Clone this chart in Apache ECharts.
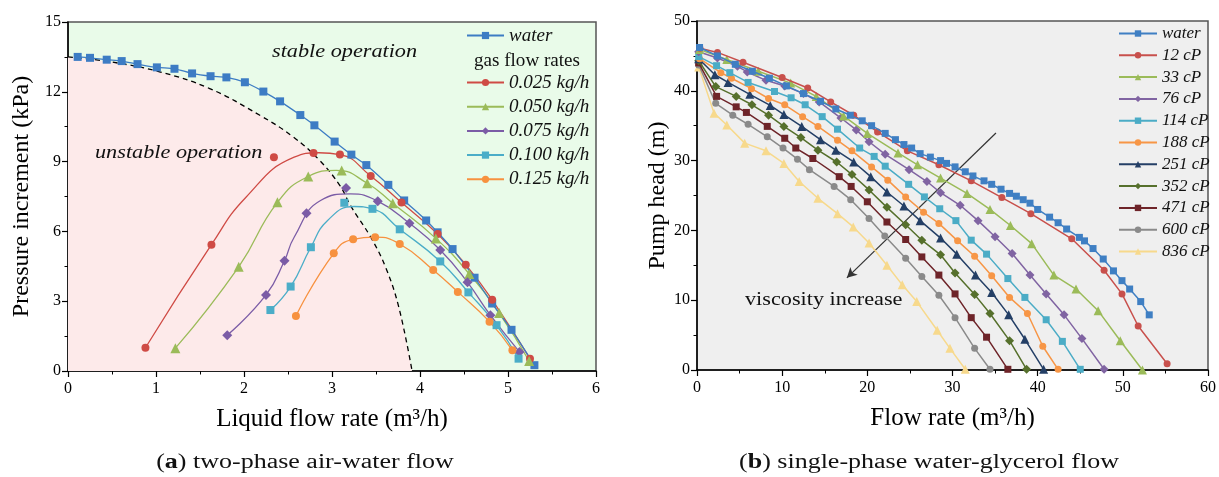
<!DOCTYPE html>
<html><head><meta charset="utf-8">
<script src="https://cdn.jsdelivr.net/npm/echarts@6/dist/echarts.min.js"></script>
<style>html,body{margin:0;padding:0;background:#fff}#c{width:1219px;height:477px}</style>
</head><body><div id="c"></div>
<script>
// ---------- Panel (a): two-phase air-water flow ----------
const waterA = [[0.11,13.5],[0.25,13.46],[0.44,13.38],[0.61,13.32],[0.79,13.19],[1.01,13.05],[1.21,12.99],[1.41,12.79],[1.62,12.67],[1.80,12.62],[2.01,12.41],[2.22,12.01],[2.41,11.59],[2.64,11.0],[2.80,10.56],[3.03,9.86],[3.22,9.30],[3.39,8.85],[3.64,8.0],[3.82,7.33],[4.07,6.47],[4.20,5.96],[4.37,5.24],[4.62,4.01],[4.82,2.90],[5.04,1.77],[5.30,0.25]];
// measured points (markers)
const g025Pts = [[0.88,1.0],[1.63,5.43],[2.34,9.19],[2.79,9.37],[3.09,9.30],[3.44,8.38],[3.79,7.24],[4.20,5.89],[4.52,4.57],[4.82,3.06],[5.25,0.53]];
const g050Pts = [[1.22,0.98],[1.94,4.48],[2.38,7.25],[2.73,8.36],[3.11,8.62],[3.40,8.07],[3.69,7.21],[4.18,5.70],[4.56,4.17],[4.90,2.49],[5.24,0.43]];
const g075Pts = [[1.81,1.54],[2.25,3.27],[2.46,4.74],[2.71,6.78],[3.16,7.87],[3.52,7.30],[3.88,6.35],[4.23,5.20],[4.54,3.81],[4.80,2.40],[5.13,0.82]];
const g100Pts = [[2.30,2.62],[2.53,3.63],[2.76,5.32],[3.14,7.23],[3.46,6.97],[3.77,6.09],[4.23,4.71],[4.55,3.38],[4.87,1.97],[5.12,0.53]];
const g125Pts = [[2.59,2.36],[3.02,5.06],[3.24,5.66],[3.49,5.75],[3.77,5.46],[4.15,4.34],[4.43,3.40],[4.79,2.12],[5.05,0.89]];
// fitted curves
const g025Curve = [[0.88,1.0],[1.63,5.43],[2.02,7.46],[2.57,9.19],[2.85,9.38],[3.09,9.30],[3.44,8.38],[3.79,7.24],[4.20,5.89],[4.52,4.57],[4.82,3.06],[5.25,0.53]];
const g050Curve = [[1.22,0.98],[1.94,4.48],[2.38,7.25],[2.73,8.36],[3.05,8.62],[3.40,8.07],[3.69,7.21],[4.18,5.70],[4.56,4.17],[4.90,2.49],[5.24,0.43]];
const g075Curve = [[1.81,1.54],[2.25,3.27],[2.46,4.74],[2.57,5.75],[2.87,7.33],[3.21,7.61],[3.52,7.30],[3.88,6.35],[4.23,5.20],[4.54,3.81],[4.80,2.40],[5.13,0.82]];
const g100Curve = [[2.30,2.62],[2.53,3.63],[2.76,5.32],[2.95,6.47],[3.25,7.07],[3.46,6.97],[3.77,6.09],[4.23,4.71],[4.55,3.38],[4.87,1.97],[5.12,0.53]];
const g125Curve = [[2.59,2.36],[3.02,5.06],[3.24,5.66],[3.49,5.75],[3.77,5.46],[4.15,4.34],[4.43,3.40],[4.79,2.12],[5.05,0.89]];
const boundary = [[0,13.5],[0.48,13.29],[1.04,12.86],[1.61,12.14],[2.18,10.99],[2.56,10.06],[2.86,9.05],[3.09,7.97],[3.21,7.11],[3.44,5.75],[3.61,4.45],[3.76,2.73],[3.91,0]];
const gasNames = ['0.025 kg/h','0.050 kg/h','0.075 kg/h','0.100 kg/h','0.125 kg/h'];
const xTicksA = [0,1,2,3,4,5,6];
const yTicksA = [0,3,6,9,12,15];

// ---------- Panel (b): single-phase water-glycerol flow ----------
const waterB = [[0.3,46.2],[2.4,45.0],[4.5,43.8],[6.5,42.8],[8.5,41.8],[10.5,40.7],[12.5,39.6],[14.5,38.5],[16.3,37.4],[18.0,36.5],[19.4,35.7],[20.5,35.0],[22.1,33.9],[23.3,33.0],[24.3,32.3],[25.2,31.8],[26.2,31.0],[27.4,30.5],[28.6,30.0],[29.3,29.6],[30.3,29.1],[31.5,28.4],[32.4,27.8],[33.7,27.1],[34.6,26.6],[35.7,25.9],[36.7,25.3],[37.5,24.9],[38.3,24.4],[39.1,23.9],[40.0,23.0],[41.4,21.9],[42.4,21.1],[43.4,20.2],[44.9,19.0],[45.5,18.5],[46.5,17.4],[47.7,15.9],[48.9,14.2],[49.9,12.8],[50.8,11.6],[52.1,9.8],[53.1,7.9]];
const cp12 = [[0.35,46.1],[2.4,45.5],[5.4,44.1],[10.0,41.9],[13.0,40.4],[15.7,38.4],[18.4,36.5],[21.2,34.1],[24.7,31.4],[28.4,29.4],[32.2,27.1],[35.8,24.7],[39.2,22.4],[44.0,18.8],[47.8,14.3],[49.9,10.9],[51.8,6.3],[55.2,0.9]];
const cp33 = [[0.3,45.9],[3.5,44.5],[7.2,42.8],[11.0,41.1],[14.0,39.2],[17.2,36.4],[20.0,33.9],[23.6,31.1],[25.9,29.4],[28.6,27.5],[31.7,25.3],[34.4,23.0],[36.8,20.7],[39.3,18.1],[41.9,13.6],[44.5,11.6],[47.1,8.5],[49.7,4.2],[52.3,0.0]];
const cp76 = [[0.2,45.6],[2.4,44.7],[4.75,43.5],[5.9,42.7],[8.1,41.5],[10.3,40.7],[12.5,39.6],[14.35,38.4],[16.9,36.1],[18.7,34.4],[20.2,32.7],[22.1,30.9],[24.9,28.7],[27.0,27.0],[28.6,25.4],[30.9,23.6],[33.0,21.4],[35.0,19.1],[37.0,16.7],[39.1,13.6],[41.0,10.9],[43.1,7.9],[45.2,4.5],[47.8,0.1]];
const cp114 = [[0.2,44.9],[2.3,43.6],[3.85,42.6],[6.0,41.2],[9.1,39.9],[11.05,39.0],[12.7,38.0],[14.7,36.3],[16.5,34.5],[19.1,31.8],[20.8,30.6],[22.1,29.2],[24.85,26.6],[26.7,24.8],[28.5,23.1],[30.4,21.4],[32.2,18.6],[34.0,16.6],[36.5,13.1],[38.5,10.4],[41.0,7.2],[42.9,4.1],[45.0,0.1]];
const cp188 = [[0.3,44.6],[2.8,42.6],[4.05,41.8],[6.4,40.3],[8.4,38.9],[10.3,38.0],[12.4,36.3],[14.2,34.9],[16.5,32.9],[18.2,31.4],[20.5,29.1],[22.4,27.2],[24.5,24.8],[26.6,22.6],[28.4,21.0],[30.6,18.5],[32.6,16.3],[34.6,13.5],[36.7,10.4],[38.8,8.1],[40.6,3.4],[42.4,0.1]];
const cp251 = [[0.2,44.6],[2.1,42.3],[3.65,41.2],[6.2,39.5],[8.6,37.9],[10.2,36.6],[12.3,34.9],[14.5,33.0],[16.3,31.5],[18.4,29.8],[20.4,27.7],[22.3,25.5],[24.3,23.5],[26.2,21.4],[28.6,18.9],[30.5,16.6],[32.7,13.6],[34.6,11.1],[36.6,7.9],[38.5,4.4],[40.7,0.1]];
const cp352 = [[0.2,44.3],[2.2,40.6],[4.6,39.2],[6.45,38.0],[8.4,36.5],[10.2,34.9],[12.2,33.3],[14.2,31.5],[16.4,29.8],[18.2,28.0],[20.2,25.8],[22.3,23.3],[24.5,20.8],[26.4,18.6],[28.6,16.5],[30.3,13.9],[32.6,10.8],[34.4,8.1],[36.7,4.2],[38.7,0.1]];
const cp471 = [[0.2,44.0],[2.3,39.2],[4.6,37.7],[5.8,36.9],[8.25,34.9],[10.3,33.2],[11.6,31.8],[13.6,30.3],[16.7,27.7],[18.1,26.3],[20.0,24.1],[22.3,21.2],[24.5,18.7],[26.4,16.2],[28.4,13.6],[30.3,10.9],[32.2,7.5],[34.0,4.7],[36.5,0.1]];
const cp600 = [[0.2,43.7],[2.2,38.2],[4.2,36.5],[6.0,35.2],[8.25,33.4],[10.1,31.8],[11.8,30.2],[13.2,28.7],[16.1,26.3],[18.05,24.4],[20.2,21.7],[22.05,19.2],[24.5,16.0],[26.4,13.4],[28.4,10.7],[30.3,7.5],[32.6,3.1],[34.4,0.1]];
const cp836 = [[0.2,43.4],[2.0,36.8],[3.5,35.1],[5.6,32.5],[8.1,31.4],[10.2,29.6],[12.0,27.0],[14.2,24.6],[16.5,22.4],[18.35,20.5],[20.2,18.2],[22.3,15.0],[24.1,12.2],[25.8,9.8],[28.2,5.7],[29.7,3.1],[31.5,0.1]];
const viscNames = ['water ','12 cP','33 cP','76 cP','114 cP','188 cP','251 cP','352 cP','471 cP','600 cP','836 cP'];
const arrowFrom = [35.1,33.95];
const arrowTo = [17.6,13.2];

const SERIF = "'Liberation Serif','DejaVu Serif',serif";
const chart = echarts.init(document.getElementById('c'), null, {renderer:'canvas'});

function axisCommon(extra, lblMargin){
  return Object.assign({
    type:'value', splitLine:{show:false},
    axisLine:{show:true, onZero:false, lineStyle:{color:'#000', width:1.5}},
    axisTick:{show:true, inside:false, length:6, lineStyle:{color:'#000', width:1.2}},
    minorTick:{show:true, splitNumber:2, length:3.5, lineStyle:{color:'#000', width:1}},
    axisLabel:{fontFamily:SERIF, fontSize:16, color:'#000', margin:lblMargin},
    nameLocation:'middle',
    nameTextStyle:{fontFamily:SERIF, fontSize:24, color:'#000'}
  }, extra);
}

const colA = {water:'#3d7cc4', g025:'#cf4b45', g050:'#9bbb59', g075:'#7b5ca6', g100:'#4badc8', g125:'#f7913f'};
const colB = ['#3f7fc3','#c8504c','#9bbb59','#8064a2','#4bacc6','#f79646','#243f66','#56702c','#6e2429','#8a8a8a','#f7d98c'];
const symB = ['rect','circle','triangle','diamond','rect','circle','triangle','diamond','rect','circle','triangle'];
const dataB = [waterB,cp12,cp33,cp76,cp114,cp188,cp251,cp352,cp471,cp600,cp836];

const series = [];
series.push({type:'line', name:'boundary', xAxisIndex:0, yAxisIndex:0, data:boundary, smooth:0.4, symbol:'none', silent:true,
  lineStyle:{color:'#000', width:1.3, type:[5,4]}, areaStyle:{color:'#fdeaea', opacity:1}, z:1});
series.push({type:'line', name:'water', xAxisIndex:0, yAxisIndex:0, data:waterA, smooth:0.3, symbol:'rect', symbolSize:8,
  lineStyle:{color:colA.water, width:1.3}, itemStyle:{color:colA.water}, z:5});
const gasCurves = [g025Curve,g050Curve,g075Curve,g100Curve,g125Curve];
const gasPts = [g025Pts,g050Pts,g075Pts,g100Pts,g125Pts];
const gasCols = [colA.g025,colA.g050,colA.g075,colA.g100,colA.g125];
const gasSym = ['circle','triangle','diamond','rect','circle'];
const gasSize = [8,10,10,8,8];
for (let i=0;i<5;i++){
  series.push({type:'line', name:gasNames[i], xAxisIndex:0, yAxisIndex:0, data:gasCurves[i], smooth:0.5, symbol:gasSym[i], symbolSize:gasSize[i], showSymbol:false, silent:true,
    lineStyle:{color:gasCols[i], width:1.3}, itemStyle:{color:gasCols[i]}, z:4});
}
for (let i=0;i<5;i++){
  series.push({type:'scatter', name:gasNames[i], xAxisIndex:0, yAxisIndex:0, data:gasPts[i], symbol:gasSym[i], symbolSize:gasSize[i],
    itemStyle:{color:gasCols[i], opacity:1}, z:6});
}
for (let i=0;i<11;i++){
  const s = {type:'line', name:viscNames[i], xAxisIndex:1, yAxisIndex:1, data:dataB[i], symbol:symB[i],
    symbolSize: symB[i]==='triangle'?9:(symB[i]==='diamond'?9:7),
    lineStyle:{color:colB[i], width:1.5}, itemStyle:{color:colB[i]}, z:20-i};
  if (i===0){
    s.markLine = {silent:true, symbol:['none','arrow'], symbolSize:[8,10], label:{show:false},
      lineStyle:{color:'#333', width:1.2, type:'solid'},
      data:[[{coord:arrowFrom},{coord:arrowTo}]]};
  }
  series.push(s);
}

const txt = (o) => Object.assign({type:'text', z:100, silent:true}, o);

const option = {
  backgroundColor:'#fff',
  animation:false,
  grid:[
    {left:68, right:623, top:22, bottom:106, show:true, backgroundColor:'#e9fbe9', borderColor:'#555', borderWidth:1.5},
    {left:697, right:8, top:21, bottom:107, show:true, backgroundColor:'#efefef', borderColor:'#555', borderWidth:1.5}
  ],
  xAxis:[
    axisCommon({gridIndex:0, min:xTicksA[0], max:xTicksA[xTicksA.length-1], interval:1, name:'Liquid flow rate (m³/h)', nameGap:36, nameTextStyle:{fontFamily:SERIF, fontSize:25, color:'#000'}}, 10),
    axisCommon({gridIndex:1, min:0, max:60, interval:10, name:'Flow rate (m³/h)', nameGap:36, nameTextStyle:{fontFamily:SERIF, fontSize:25, color:'#000'}}, 10)
  ],
  yAxis:[
    axisCommon({gridIndex:0, min:yTicksA[0], max:yTicksA[yTicksA.length-1], interval:3, name:'Pressure increment (kPa)', nameGap:34}, 7),
    axisCommon({gridIndex:1, min:0, max:50, interval:10, name:'Pump head (m)', nameGap:26}, 7)
  ],
  legend:[
    {data:['water'], orient:'vertical', left:461, top:21, itemWidth:37, itemHeight:9, itemGap:5,
     textStyle:{fontFamily:SERIF, fontSize:19, fontStyle:'italic', color:'#111', lineHeight:19}},
    {data:gasNames, orient:'vertical', left:461, top:68, itemWidth:37, itemHeight:9, itemGap:5.2,
     textStyle:{fontFamily:SERIF, fontSize:19, fontStyle:'italic', color:'#111', lineHeight:19}},
    {data:viscNames, orient:'vertical', left:1113, top:20, itemWidth:38, itemHeight:8, itemGap:4.8,
     formatter:n=>n.trim(),
     textStyle:{fontFamily:SERIF, fontSize:17, fontStyle:'italic', color:'#111', lineHeight:17}}
  ],
  graphic:[
    txt({x:474, y:61, scaleX:1.06, style:{text:'gas flow rates', font:"18px 'Liberation Serif', serif", fill:'#111', align:'left', verticalAlign:'middle'}}),
    txt({x:272, y:52, scaleX:1.17, style:{text:'stable operation', font:"italic 19px 'Liberation Serif', serif", fill:'#111', align:'left', verticalAlign:'middle'}}),
    txt({x:95, y:153, scaleX:1.17, style:{text:'unstable operation', font:"italic 19px 'Liberation Serif', serif", fill:'#111', align:'left', verticalAlign:'middle'}}),
    txt({x:745, y:300, scaleX:1.17, style:{text:'viscosity increase', font:"19px 'Liberation Serif', serif", fill:'#111', align:'left', verticalAlign:'middle'}}),
    txt({x:305, y:463, scaleX:1.3, style:{text:'({a|a}) two-phase air-water flow', font:"20px 'Liberation Serif', serif", fill:'#111', align:'center', verticalAlign:'middle',
      rich:{a:{fontWeight:'bold', fontSize:20, fontFamily:SERIF}}}}),
    txt({x:929, y:463, scaleX:1.3, style:{text:'({a|b}) single-phase water-glycerol flow', font:"20px 'Liberation Serif', serif", fill:'#111', align:'center', verticalAlign:'middle',
      rich:{a:{fontWeight:'bold', fontSize:20, fontFamily:SERIF}}}})
  ],
  series: series
};
chart.setOption(option);
</script></body></html>
